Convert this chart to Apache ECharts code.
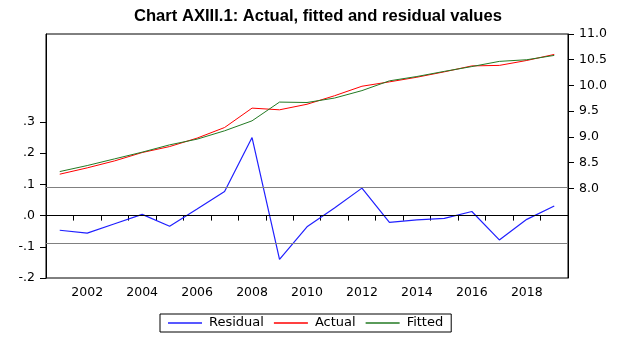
<!DOCTYPE html>
<html>
<head>
<meta charset="utf-8">
<script src="https://cdn.jsdelivr.net/npm/echarts@6/dist/echarts.min.js"></script>
<style>
  html, body { margin: 0; padding: 0; background: #fff; }
  #chart { width: 620px; height: 342px; }
</style>
</head>
<body>
<div id="chart"></div>
<script>
// Years on the horizontal axis
const years = ['2001','2002','2003','2004','2005','2006','2007','2008','2009','2010',
               '2011','2012','2013','2014','2015','2016','2017','2018','2019'];

// Residuals (left axis)
const residual = [-0.047, -0.056, -0.026, 0.004, -0.034, 0.021, 0.077, 0.250, -0.140, -0.036,
                  0.024, 0.088, -0.022, -0.014, -0.009, 0.013, -0.078, -0.012, 0.031];

// Actual and fitted values (right axis)
const actual = [8.276, 8.399, 8.535, 8.697, 8.813, 8.977, 9.183, 9.560, 9.527, 9.635,
                9.800, 9.985, 10.070, 10.160, 10.265, 10.380, 10.390, 10.486, 10.603];
const fitted = [8.327, 8.444, 8.574, 8.704, 8.846, 8.957, 9.119, 9.313, 9.677, 9.669,
                9.755, 9.900, 10.090, 10.174, 10.274, 10.367, 10.468, 10.500, 10.584];

// Tick labels shown on each value axis
const leftTicks = [-0.2, -0.1, 0, 0.1, 0.2, 0.3];
const rightTicks = [8.0, 8.5, 9.0, 9.5, 10.0, 10.5, 11.0];

// Residual band (+/- one standard error)
const seBand = 0.085;

const FONT = 'DejaVu Sans';

const chart = echarts.init(document.getElementById('chart'), null, { renderer: 'canvas' });

chart.setOption({
  animation: false,
  backgroundColor: '#ffffff',
  title: {
    text: 'Chart AXIII.1: Actual, fitted and residual values',
    left: 134,
    top: 8,
    padding: 0,
    textStyle: { fontFamily: 'Liberation Sans', fontWeight: 'bold', fontSize: 16.6, color: '#000' }
  },
  legend: {
    left: 160,
    top: 314,
    padding: [2, 8, 2, 8],
    icon: 'rect',
    itemWidth: 34,
    itemHeight: 1.5,
    itemGap: 10,
    borderColor: '#000',
    borderWidth: 1,
    textStyle: { fontFamily: FONT, fontSize: 13, color: '#000', lineHeight: 14, padding: [0, 0, 0, 2] },
    data: ['Residual', 'Actual', 'Fitted']
  },
  grid: {
    left: 46, right: 52, top: 34, bottom: 64,
    show: true, borderColor: '#000', borderWidth: 1, backgroundColor: 'transparent'
  },
  xAxis: {
    type: 'category',
    data: years,
    boundaryGap: true,
    axisLine: { lineStyle: { color: '#000', width: 1 } },
    axisTick: { show: true, interval: 0, length: 5, lineStyle: { color: '#000' } },
    axisLabel: {
      interval: function (i) { return i % 2 === 1; },
      margin: 8,
      fontFamily: FONT, fontSize: 12.5, color: '#000'
    },
    splitLine: { show: false }
  },
  yAxis: [
    {
      type: 'value',
      position: 'left',
      min: -0.2,
      max: 0.582,
      axisLine: { show: true, lineStyle: { color: '#000' } },
      axisTick: { show: true, length: 6, customValues: leftTicks, lineStyle: { color: '#000' } },
      axisLabel: {
        customValues: leftTicks,
        margin: 11,
        fontFamily: FONT, fontSize: 12.5, color: '#000',
        formatter: function (v) {
          const s = Math.abs(v).toFixed(1).replace(/^0/, '');
          return (v < -1e-9 ? '-' : '') + s;
        }
      },
      splitLine: { show: false }
    },
    {
      type: 'value',
      position: 'right',
      min: 6.259,
      max: 11.0,
      axisLine: { show: true, lineStyle: { color: '#000' } },
      axisTick: { show: true, length: 6, customValues: rightTicks, lineStyle: { color: '#000' } },
      axisLabel: {
        customValues: rightTicks,
        margin: 11,
        fontFamily: FONT, fontSize: 12.5, color: '#000',
        formatter: function (v) { return v.toFixed(1); }
      },
      splitLine: { show: false }
    }
  ],
  series: [
    {
      name: 'Residual',
      type: 'line',
      yAxisIndex: 0,
      data: residual,
      symbol: 'none',
      color: '#2020ff',
      lineStyle: { color: '#2020ff', width: 1.2 },
      z: 3,
      markLine: {
        silent: true,
        symbol: ['none', 'none'],
        label: { show: false },
        emphasis: { disabled: true },
        data: [
          { yAxis: 0, lineStyle: { color: '#000', width: 1, type: 'solid' } },
          { yAxis: seBand, lineStyle: { color: '#808080', width: 1, type: 'solid' } },
          { yAxis: -seBand, lineStyle: { color: '#808080', width: 1, type: 'solid' } }
        ]
      }
    },
    {
      name: 'Actual',
      type: 'line',
      yAxisIndex: 1,
      data: actual,
      symbol: 'none',
      color: '#ff0000',
      lineStyle: { color: '#ff0000', width: 1 },
      z: 4
    },
    {
      name: 'Fitted',
      type: 'line',
      yAxisIndex: 1,
      data: fitted,
      symbol: 'none',
      color: '#237a23',
      lineStyle: { color: '#237a23', width: 1 },
      z: 5
    }
  ]
});
</script>
</body>
</html>
